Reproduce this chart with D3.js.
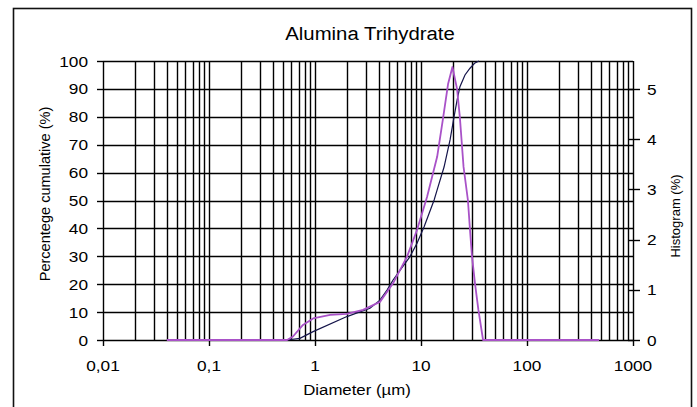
<!DOCTYPE html>
<html>
<head>
<meta charset="utf-8">
<script src="https://cdn.jsdelivr.net/npm/d3@7"></script>
<style>
  body { margin: 0; background: #fff; }
  svg { display: block; }
</style>
</head>
<body>
<div id="chart"></div>
<script>
// histogram (right axis, %) against diameter in µm
var hist_diam   = [0.04, 0.545, 0.62, 0.77, 0.96, 1.39, 2.0, 2.84, 4.1, 5.45, 7.38, 9.17, 11.4, 14.2, 16.1, 18.0, 19.8, 21.9, 23.3, 25.2, 27.7, 29.0, 30.3, 32.3, 34.8, 38.5, 478];
var hist_values = [0, 0, 0.07, 0.3, 0.43, 0.5, 0.52, 0.6, 0.76, 1.13, 1.66, 2.19, 2.85, 3.65, 4.4, 5.1, 5.44, 5.0, 4.42, 3.45, 2.79, 2.19, 1.66, 1.13, 0.6, 0, 0];

// cumulative (left axis, %)
var cum_diam   = [0.545, 0.72, 0.96, 2.0, 3.3, 4.1, 4.78, 5.45, 7.87, 9.17, 10.7, 13.3, 14.2, 16.5, 18.8, 20.5, 21.9, 23.3, 26.0, 29.0, 32.0, 35.2];
var cum_values = [0, 0.6, 3, 8.4, 11.4, 14.3, 17.9, 21.5, 29.9, 34.7, 40.6, 50.2, 53.8, 62, 71.7, 80, 86, 90.8, 95, 97.4, 99.2, 100];

var left_ticks = [0, 10, 20, 30, 40, 50, 60, 70, 80, 90, 100];
var right_ticks = [0, 1, 2, 3, 4, 5];
var x_ticks = [0.01, 0.1, 1, 10, 100, 1000];
var x_tick_labels = ["0,01", "0,1", "1", "10", "100", "1000"];

var width = 697, height = 407;
var font = "'Liberation Sans', Arial, sans-serif";

var svg = d3.select("#chart").append("svg")
    .attr("width", width)
    .attr("height", height);

svg.append("rect")
    .attr("width", width).attr("height", height)
    .attr("fill", "#fff");

// outer frame (bottom edge falls off the picture)
svg.append("rect")
    .attr("x", 13.5).attr("y", 8.5)
    .attr("width", 678).attr("height", 420)
    .attr("fill", "none")
    .attr("stroke", "#111")
    .attr("stroke-width", 1.6);

var x = d3.scaleLog().domain([0.01, 1000]).range([103, 633]);
var y = d3.scaleLinear().domain([0, 100]).range([340, 61]);
var y2 = d3.scaleLinear().domain([0, 5.56]).range([340, 61]);

var px = v => Math.round(v) + 0.5;

// grid
var grid = svg.append("g").attr("stroke", "#000").attr("stroke-width", 1.4);
grid.selectAll("line.v")
  .data(x.ticks())
  .enter().append("line")
    .attr("x1", d => px(x(d))).attr("x2", d => px(x(d)))
    .attr("y1", y(100)).attr("y2", y(0));
grid.selectAll("line.h")
  .data(left_ticks)
  .enter().append("line")
    .attr("y1", d => px(y(d))).attr("y2", d => px(y(d)))
    .attr("x1", x(0.01)).attr("x2", x(1000));

// tick marks
var ticks = svg.append("g").attr("stroke", "#000").attr("stroke-width", 1.4);
ticks.selectAll("line.l")
  .data(left_ticks)
  .enter().append("line")
    .attr("x1", x(0.01) - 6).attr("x2", x(0.01))
    .attr("y1", d => px(y(d))).attr("y2", d => px(y(d)));
ticks.selectAll("line.b")
  .data(x_ticks)
  .enter().append("line")
    .attr("x1", d => px(x(d))).attr("x2", d => px(x(d)))
    .attr("y1", y(0)).attr("y2", y(0) + 6);
ticks.selectAll("line.r")
  .data(right_ticks)
  .enter().append("line")
    .attr("x1", x(1000) - 5).attr("x2", x(1000) + 7)
    .attr("y1", d => px(y2(d))).attr("y2", d => px(y2(d)));

// curves
var cumLine = d3.line()
    .x((d, i) => x(cum_diam[i]))
    .y(d => y(d));
svg.append("path")
    .datum(cum_values)
    .attr("fill", "none")
    .attr("stroke", "#14144a")
    .attr("stroke-width", 1.2)
    .attr("d", cumLine);

var histLine = d3.line()
    .x((d, i) => x(hist_diam[i]))
    .y(d => y2(d));
svg.append("path")
    .datum(hist_values)
    .attr("fill", "none")
    .attr("stroke", "#a952c8")
    .attr("stroke-width", 1.8)
    .attr("stroke-linejoin", "round")
    .attr("d", histLine);

// labels
function label(sx, tx, ty, txt, size, anchor, rot) {
  return svg.append("text")
      .attr("transform", `translate(${tx},${ty})` + (rot ? ` rotate(${rot})` : "") + ` scale(${sx},1)`)
      .attr("text-anchor", anchor)
      .style("font-family", font)
      .style("font-size", size + "px")
      .attr("fill", "#000")
      .text(txt);
}

label(1.13, 370, 40, "Alumina Trihydrate", 18, "middle");

left_ticks.forEach(d => label(1.15, 88, y(d) + 5.5, d, 15, "end"));
x_ticks.forEach((d, i) => label(1.15, x(d), 371, x_tick_labels[i], 15, "middle"));
right_ticks.forEach(d => label(1.15, 647, y2(d) + 5.5, d, 15, "start"));

label(1.12, 357, 395, "Diameter (\u00b5m)", 15, "middle");
label(1.04, 50, 194, "Percentege cumulative (%)", 14, "middle", -90);
label(1.0, 680, 216, "Histogram (%)", 13, "middle", -90);
</script>
</body>
</html>
